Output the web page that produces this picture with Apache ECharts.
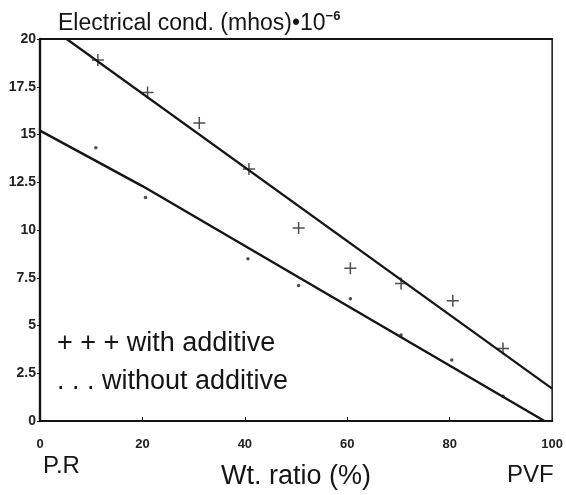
<!DOCTYPE html>
<html>
<head>
<meta charset="utf-8">
<script src="https://cdn.jsdelivr.net/npm/echarts@6/dist/echarts.min.js"></script>
<style>
  html, body { margin: 0; padding: 0; background: #fff; }
  #chart { width: 566px; height: 495px; }
</style>
</head>
<body>
<div id="chart"></div>
<script>
// measured points, "+ + + with additive"
const withX = [11.3, 21, 31.1, 40.8, 50.5, 60.6, 70.5, 80.6, 90.4];
const withY = [18.9, 17.2, 15.6, 13.2, 10.1, 8.0, 7.2, 6.3, 3.8];
// ". . . without additive"
const withoutX = [10.9, 20.6, 40.6, 50.5, 60.6, 70.5, 80.4, 90.4];
const withoutY = [14.3, 11.7, 8.5, 7.1, 6.4, 4.5, 3.2, 1.3];
// drawn trend lines
const fitWithX = [5.2, 100];
const fitWithY = [20, 1.7];
const fitWithoutX = [0, 20, 98.5];
const fitWithoutY = [15.2, 12.3, 0];

const ink = '#151515';
const font = 'Liberation Sans, Arial, sans-serif';
const plus = 'path://M5.25,0h1.5v5.25h5.25v1.5h-5.25v5.25h-1.5v-5.25h-5.25v-1.5h5.25z';

const pairs = (xs, ys) => xs.map((x, i) => [x, ys[i]]);

const chart = echarts.init(document.getElementById('chart'), null, { renderer: 'canvas' });

const option = {
  backgroundColor: '#ffffff',
  animation: false,
  textStyle: { fontFamily: font, color: ink },
  title: {
    text: '{a|Electrical cond. (mhos)•10}{s|−6}',
    left: 53,
    top: 5,
    textStyle: {
      fontWeight: 'normal',
      rich: {
        a: { fontSize: 23, fontWeight: 'normal', color: ink, fontFamily: font, lineHeight: 28 },
        s: { fontSize: 13, fontWeight: 'bold', color: ink, fontFamily: font, verticalAlign: 'top', lineHeight: 28 }
      }
    }
  },
  grid: {
    left: 40, right: 13, top: 39, bottom: 73,
    show: true, borderColor: ink, borderWidth: 1.5
  },
  xAxis: [{
    type: 'value', min: 0, max: 100, interval: 20,
    axisLine: { show: true, lineStyle: { color: ink, width: 2.2 } },
    axisTick: { show: true, inside: true, length: 4, lineStyle: { color: ink } },
    axisLabel: { margin: 17, fontSize: 13, fontWeight: 'bold', color: '#222', fontFamily: font },
    splitLine: { show: false },
    name: 'Wt. ratio (%)',
    nameLocation: 'middle',
    nameGap: 42,
    nameTextStyle: { fontSize: 27, color: ink, fontFamily: font }
  }, {
    type: 'value', min: 0, max: 100, position: 'top',
    axisLine: { show: true, lineStyle: { color: ink, width: 2 } },
    axisTick: { show: false }, axisLabel: { show: false }, splitLine: { show: false }
  }],
  yAxis: {
    type: 'value', min: 0, max: 20, interval: 2.5,
    axisLine: { show: true, lineStyle: { color: ink, width: 2.4 } },
    axisTick: { show: true, length: 3, lineStyle: { color: ink } },
    axisLabel: { margin: 4, fontSize: 14, fontWeight: 'bold', color: '#222', fontFamily: font },
    splitLine: { show: false }
  },
  graphic: [
    { type: 'text', left: 43, top: 454, style: { text: 'P.R', font: '24px ' + font, fill: ink } },
    { type: 'text', left: 507, top: 463, style: { text: 'PVF', font: '24px ' + font, fill: ink } },
    { type: 'text', left: 57, top: 330, style: { text: '+ + + with additive', font: '27px ' + font, fill: ink } },
    { type: 'text', left: 57, top: 368, style: { text: '. . . without additive', font: '27px ' + font, fill: ink } }
  ],
  series: [
    {
      name: 'with additive fit', type: 'line', data: pairs(fitWithX, fitWithY),
      showSymbol: false, lineStyle: { color: ink, width: 2.2 }, silent: true
    },
    {
      name: 'without additive fit', type: 'line', data: pairs(fitWithoutX, fitWithoutY),
      showSymbol: false, lineStyle: { color: ink, width: 2.4 }, silent: true
    },
    {
      name: 'with additive', type: 'scatter', data: pairs(withX, withY),
      symbol: plus, symbolSize: 12, itemStyle: { color: '#222' }
    },
    {
      name: 'without additive', type: 'scatter', data: pairs(withoutX, withoutY),
      symbol: 'circle', symbolSize: 3.5, itemStyle: { color: '#222' }
    }
  ]
};

chart.setOption(option);
</script>
</body>
</html>
